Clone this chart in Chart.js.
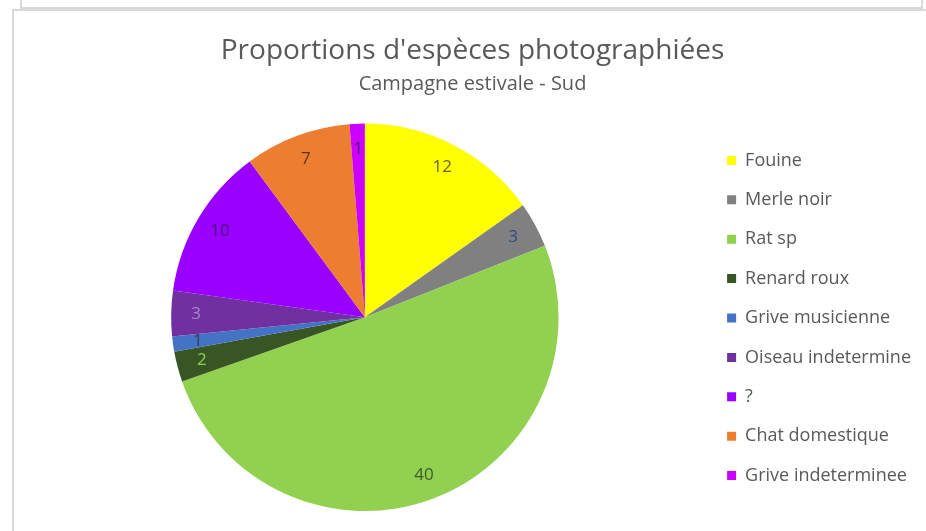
<!DOCTYPE html>
<html>
<head>
<meta charset="utf-8">
<script src="https://cdn.jsdelivr.net/npm/chart.js@4"></script>
<style>
  html, body { margin: 0; padding: 0; background: #ffffff; overflow: hidden; }
  #wrap { position: relative; width: 926px; height: 531px; }
  .frame { position: absolute; border: 2px solid #d9d9d9; box-sizing: border-box; }
  #prev { left: 20px; top: -20px; width: 903px; height: 29px; }
  #main { left: 12px; top: 9px; width: 940px; height: 600px; }
  canvas { position: absolute; left: 0; top: 0; }
</style>
</head>
<body>
<div id="wrap">
  <div class="frame" id="prev"></div>
  <div class="frame" id="main"></div>
  <canvas id="c" width="926" height="531"></canvas>
</div>
<script>
const titleText = "Proportions d'espèces photographiées";
const subtitleText = "Campagne estivale - Sud";
const categories = ["Fouine", "Merle noir", "Rat sp", "Renard roux", "Grive musicienne", "Oiseau indetermine", "?", "Chat domestique", "Grive indeterminee"];
const counts = [12, 3, 40, 2, 1, 3, 10, 7, 1];
const sliceColors = ["#ffff00", "#808080", "#92d050", "#375623", "#4472c4", "#7030a0", "#9900ff", "#ed7d31", "#cc00ff"];
const labelColors = ["#6b6400", "#2f4a80", "#3e5a2c", "#8fcf55", "#3a3a5a", "#a585c8", "#4a0a7a", "#5a3418", "#4a0a6a"];

const valueLabels = {
  id: 'valueLabels',
  afterDatasetsDraw(chart) {
    const ctx = chart.ctx;
    const meta = chart.getDatasetMeta(0);
    ctx.save();
    ctx.font = "17px 'Open Sans'";
    ctx.textAlign = 'center';
    ctx.textBaseline = 'middle';
    meta.data.forEach((arc, i) => {
      const p = arc.getProps(['x', 'y', 'startAngle', 'endAngle', 'outerRadius'], true);
      const mid = (p.startAngle + p.endAngle) / 2;
      const r = p.outerRadius - 25;
      ctx.fillStyle = labelColors[i];
      ctx.fillText(String(chart.data.datasets[0].data[i]), p.x + Math.cos(mid) * r, p.y + Math.sin(mid) * r);
    });
    ctx.restore();
  }
};

new Chart(document.getElementById('c'), {
  type: 'pie',
  data: {
    labels: categories,
    datasets: [{
      data: counts,
      backgroundColor: sliceColors,
      borderWidth: 0
    }]
  },
  options: {
    responsive: false,
    animation: false,
    events: [],
    layout: { padding: { left: 24, right: 5, top: 0, bottom: 20 } },
    plugins: {
      title: {
        display: true,
        text: titleText,
        color: '#595959',
        font: { family: "'Open Sans'", size: 28, weight: 'normal' },
        padding: { top: 34, bottom: 2 }
      },
      subtitle: {
        display: true,
        text: subtitleText,
        color: '#595959',
        font: { family: "'Open Sans'", size: 20, weight: 'normal' },
        padding: { top: 3, bottom: 27 }
      },
      legend: {
        position: 'right',
        align: 'start',
        title: {
          display: true,
          text: ' ',
          font: { size: 10 },
          padding: { top: 0, bottom: 118 }
        },
        labels: {
          color: '#595959',
          font: { family: "'Open Sans'", size: 18 },
          boxWidth: 9,
          boxHeight: 9,
          padding: 21.4
        }
      },
      tooltip: { enabled: false }
    }
  },
  plugins: [valueLabels]
});
</script>
</body>
</html>
